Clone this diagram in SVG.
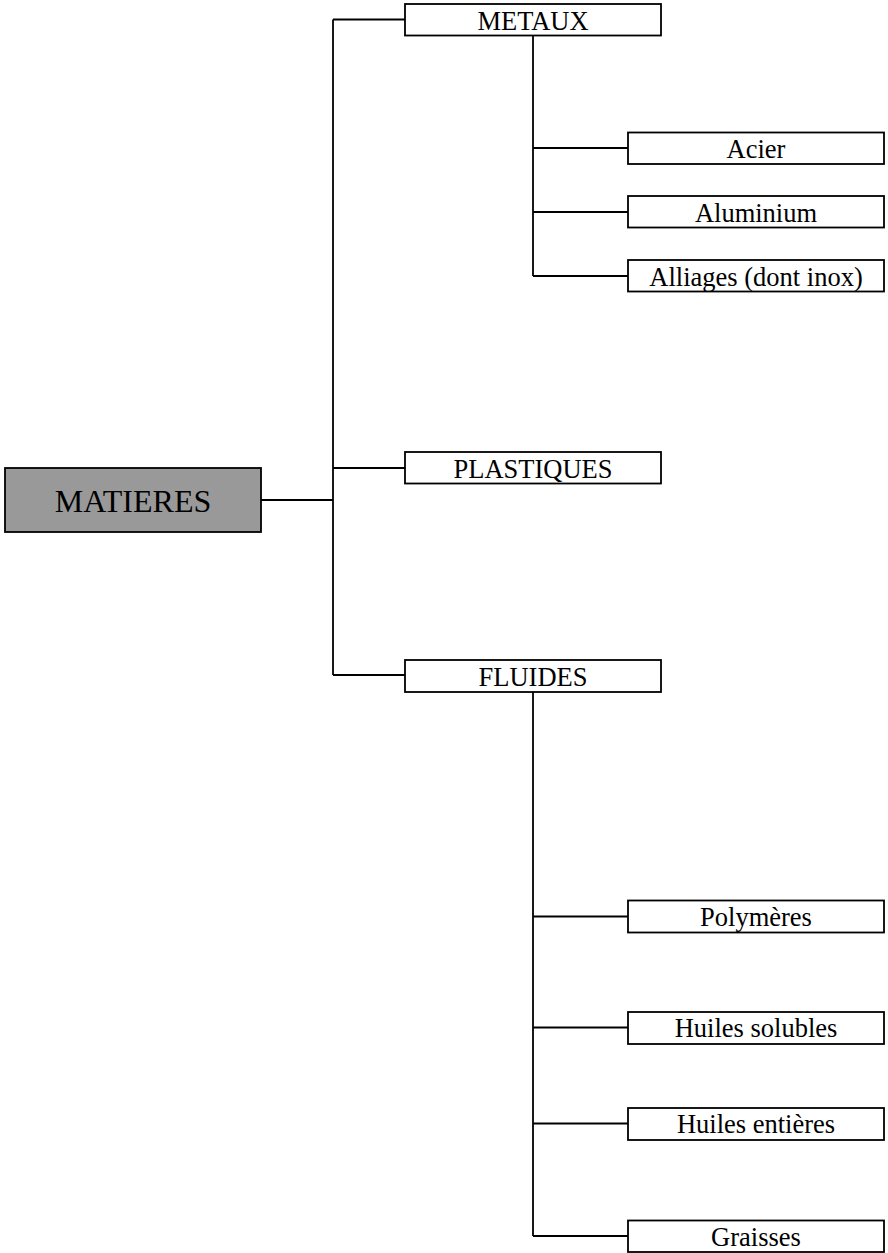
<svg xmlns="http://www.w3.org/2000/svg" width="888" height="1253" viewBox="0 0 888 1253">
  <style>
    .box { fill: #ffffff; stroke: #000000; stroke-width: 1.8; }
    .root { fill: #999999; stroke: #000000; stroke-width: 1.8; }
    .lbl { font-family: "Liberation Serif", "Times New Roman", serif; font-size: 26.5px; fill: #000000; text-anchor: middle; }
    .big { font-family: "Liberation Serif", "Times New Roman", serif; font-size: 32px; fill: #000000; text-anchor: middle; }
    .conn { fill: none; stroke: #000000; stroke-width: 1.8; }
  </style>
  <rect width="888" height="1253" fill="#ffffff"/>

  <!-- connectors -->
  <g id="connectors">
    <path class="conn" d="M261 500 H333"/>
    <path class="conn" d="M333 19.5 V675"/>
    <path class="conn" d="M333 19.5 H405"/>
    <path class="conn" d="M333 468 H405"/>
    <path class="conn" d="M333 675 H405"/>
    <!-- METAUX branch -->
    <path class="conn" d="M533 35.5 V276"/>
    <path class="conn" d="M533 148 H628"/>
    <path class="conn" d="M533 212 H628"/>
    <path class="conn" d="M533 276 H628"/>
    <!-- FLUIDES branch -->
    <path class="conn" d="M533 692 V1236"/>
    <path class="conn" d="M533 916.5 H628"/>
    <path class="conn" d="M533 1027.5 H628"/>
    <path class="conn" d="M533 1123.5 H628"/>
    <path class="conn" d="M533 1236 H628"/>
  </g>

  <g id="matieres">
    <rect class="root" x="5" y="468" width="256" height="64"/>
    <text class="big" x="133" y="512">MATIERES</text>
  </g>

  <g id="metaux">
    <rect class="box" x="405" y="4" width="256" height="31.5"/>
    <text class="lbl" x="533" y="29.5">METAUX</text>
  </g>
  <g id="plastiques">
    <rect class="box" x="405" y="452" width="256" height="31.5"/>
    <text class="lbl" x="533" y="477.5">PLASTIQUES</text>
  </g>
  <g id="fluides">
    <rect class="box" x="405" y="660" width="256" height="32"/>
    <text class="lbl" x="533" y="685.5">FLUIDES</text>
  </g>

  <g id="acier">
    <rect class="box" x="628" y="132.5" width="256" height="31.5"/>
    <text class="lbl" x="756" y="158">Acier</text>
  </g>
  <g id="aluminium">
    <rect class="box" x="628" y="196" width="256" height="31.5"/>
    <text class="lbl" x="756" y="221.5">Aluminium</text>
  </g>
  <g id="alliages">
    <rect class="box" x="628" y="260" width="256" height="31.5"/>
    <text class="lbl" x="756" y="285.5">Alliages (dont inox)</text>
  </g>

  <g id="polymeres">
    <rect class="box" x="628" y="900.5" width="256" height="32"/>
    <text class="lbl" x="756" y="926">Polymères</text>
  </g>
  <g id="huiles-solubles">
    <rect class="box" x="628" y="1012" width="256" height="32"/>
    <text class="lbl" x="756" y="1037">Huiles solubles</text>
  </g>
  <g id="huiles-entieres">
    <rect class="box" x="628" y="1108" width="256" height="32"/>
    <text class="lbl" x="756" y="1133">Huiles entières</text>
  </g>
  <g id="graisses">
    <rect class="box" x="628" y="1220.5" width="256" height="31.5"/>
    <text class="lbl" x="756" y="1246">Graisses</text>
  </g>
</svg>
